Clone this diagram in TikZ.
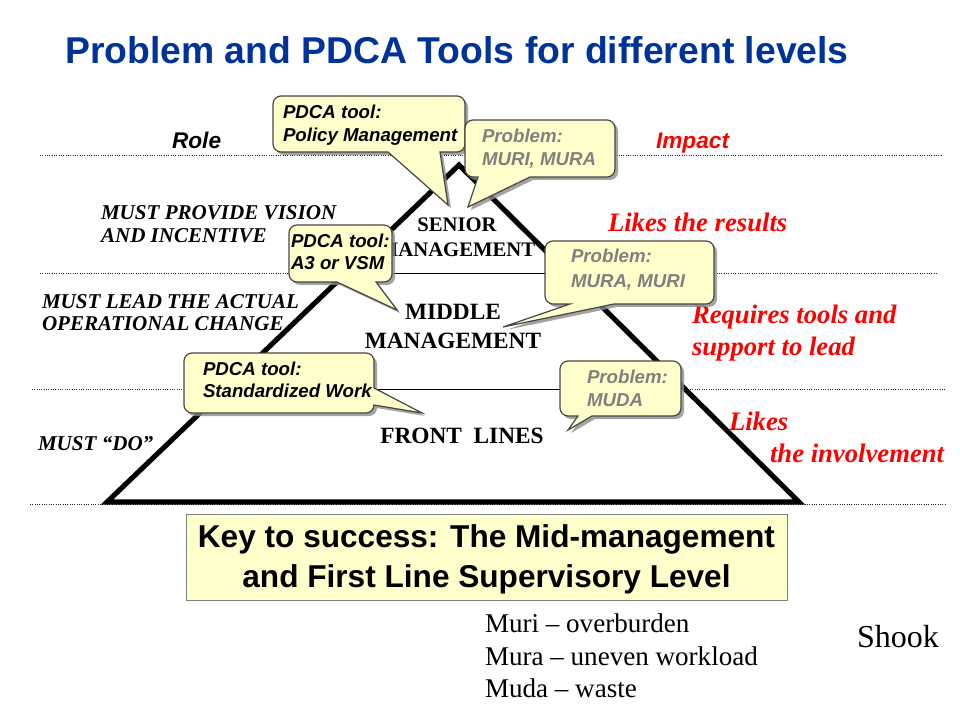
\documentclass[tikz,border=0pt]{standalone}
\usepackage{fontspec}
\setmainfont{Liberation Serif}
\setsansfont{Liberation Sans}
\definecolor{titleblue}{RGB}{0,51,153}
\definecolor{callfill}{RGB}{255,255,204}
\definecolor{callborder}{RGB}{70,70,70}
\definecolor{probgray}{RGB}{128,128,128}
\definecolor{keyborder}{RGB}{128,128,128}
\definecolor{impred}{RGB}{255,0,0}
\newcommand{\fsz}[1]{\fontsize{#1}{#1}\selectfont}
% rounded box with pointer inserts: L T R B r rightinsert bottominsert
\newcommand{\callshape}[7]{(#1+#5,#2) -- (#3-#5,#2) arc[start angle=-90,end angle=0,radius=#5] #6 -- (#3,#4-#5) arc[start angle=0,end angle=90,radius=#5] #7 -- (#1+#5,#4) arc[start angle=90,end angle=180,radius=#5] -- (#1,#2+#5) arc[start angle=180,end angle=270,radius=#5] -- cycle}
\begin{document}
\begin{tikzpicture}[x=0.75pt,y=-0.75pt,
  lbl/.style={inner sep=0pt,outer sep=0pt,anchor=base west},
  clbl/.style={inner sep=0pt,outer sep=0pt,anchor=base},
  roletxt/.style={lbl,font=\sffamily\bfseries\itshape\fsz{17}},
  lefttxt/.style={lbl,font=\rmfamily\bfseries\itshape\fsz{15.8}},
  leveltxt/.style={clbl,font=\rmfamily\bfseries\fsz{17.5}},
  seniortxt/.style={clbl,font=\rmfamily\bfseries\fsz{15.5}},
  redtxt/.style={lbl,font=\rmfamily\bfseries\itshape\fsz{20},text=impred},
  pdcatxt/.style={lbl,font=\sffamily\bfseries\itshape\fsz{14}},
  probtxt/.style={pdcatxt,text=probgray},
  dotline/.style={line width=0.75pt,dash pattern=on 0.75pt off 1pt,black!85},
  thinline/.style={line width=0.75pt,black},
  tri/.style={line width=3.8pt,black,line join=miter},
  callbody/.style={fill=callfill,draw=callborder,line width=0.9pt},
  callshadow/.style={fill=black!45,opacity=0.8},
  keybox/.style={fill=callfill,draw=keyborder,line width=0.75pt},
  keytxt/.style={clbl,font=\sffamily\bfseries\fsz{23.7}},
  notetxt/.style={lbl,font=\rmfamily\fsz{20.3}}
]
\useasboundingbox (0,0) rectangle (960,720);

% title
\node[clbl,font=\sffamily\bfseries\fsz{28},text=titleblue] (title) at (457,64) {Problem and PDCA Tools for different levels};

% dotted level lines
\coordinate (d1l) at (40,156);  \coordinate (d1r) at (942,156);
\coordinate (d2l) at (40,274);  \coordinate (d2r) at (938,274);
\coordinate (d3l) at (32,389);  \coordinate (d3r) at (946,389);
\coordinate (d4l) at (30,504);  \coordinate (d4r) at (946,504);
\draw[dotline] (d1l) -- (d1r);
\draw[dotline] (d2l) -- (d2r);
\draw[dotline] (d3l) -- (d3r);
\draw[dotline] (d4l) -- (d4r);

% triangle
\coordinate (apex) at (459,165);
\coordinate (bl) at (107,502);
\coordinate (br) at (799,502);
\coordinate (i1l) at (345,274); \coordinate (i1r) at (569,274);
\coordinate (i2l) at (225,389); \coordinate (i2r) at (685,389);
\draw[thinline] (i1l) -- (i1r);
\draw[thinline] (i2l) -- (i2r);
\draw[tri] (apex) -- (br) -- (bl) -- cycle;

% role / impact
\node[roletxt] (role) at (172,149) {Role};
\node[roletxt,text=impred] (impact) at (656,149) {Impact};

% left texts
\node[lefttxt] (v1) at (101,220) {MUST PROVIDE VISION};
\node[lefttxt] (v2) at (101,243) {AND INCENTIVE};
\node[lefttxt] (l1) at (42,308) {MUST LEAD THE ACTUAL};
\node[lefttxt] (l2) at (42,330) {OPERATIONAL CHANGE};
\node[lefttxt] (d1) at (38,450) {MUST “DO”};

% level texts
\node[seniortxt] (sen1) at (457,232) {SENIOR};
\node[seniortxt] (sen2) at (457,257) {MANAGEMENT};
\node[leveltxt] (mid1) at (453,320) {MIDDLE};
\node[leveltxt] (mid2) at (453,349) {MANAGEMENT};
\node[leveltxt] (front) at (462,443) {FRONT~ LINES};

% red texts
\node[redtxt] (r1) at (608,232) {Likes the results};
\node[redtxt] (r2) at (692,324) {Requires tools and};
\node[redtxt] (r3) at (692,355) {support to lead};
\node[redtxt] (r4) at (729,430) {Likes};
\node[redtxt] (r5) at (770,462) {the involvement};

% callouts: shadows
\fill[callshadow,shift={(3,3)}] \callshape{273}{96}{465}{152}{8}{}{-- (440,152) -- (448,205) -- (388,152)};
\fill[callshadow,shift={(3,3)}] \callshape{465}{120}{615}{177}{8}{}{-- (530,177) -- (468,207) -- (478,177)};
\fill[callshadow,shift={(3,3)}] \callshape{289}{225}{392}{282}{8}{}{-- (376,282) -- (397,310) -- (337,282)};
\fill[callshadow,shift={(3,3)}] \callshape{545}{241}{714}{304}{8}{}{-- (614,304) -- (503,327) -- (570,304)};
\fill[callshadow,shift={(3,3)}] \callshape{184}{353}{374}{413}{8}{-- (374,388) -- (422,413)}{};
\fill[callshadow,shift={(3,3)}] \callshape{560}{361}{681}{416}{8}{}{-- (592,416) -- (568,430) -- (578,416)};

% callouts: bodies
\path[callbody] \callshape{273}{96}{465}{152}{8}{}{-- (440,152) -- (448,205) -- (388,152)};
\node[pdcatxt] (c1a) at (283,119) {PDCA tool:};
\node[pdcatxt] (c1b) at (283,142) {Policy Management};

\path[callbody] \callshape{465}{120}{615}{177}{8}{}{-- (530,177) -- (468,207) -- (478,177)};
\node[probtxt] (c2a) at (482,143) {Problem:};
\node[probtxt] (c2b) at (482,166) {MURI, MURA};

\path[callbody] \callshape{289}{225}{392}{282}{8}{}{-- (376,282) -- (397,310) -- (337,282)};
\node[pdcatxt] (c3a) at (291,248) {PDCA tool:};
\node[pdcatxt] (c3b) at (291,270) {A3 or VSM};

\path[callbody] \callshape{545}{241}{714}{304}{8}{}{-- (614,304) -- (503,327) -- (570,304)};
\node[probtxt] (c4a) at (571,263) {Problem:};
\node[probtxt] (c4b) at (571,287) {MURA, MURI};

\path[callbody] \callshape{184}{353}{374}{413}{8}{-- (374,388) -- (422,413)}{};
\node[pdcatxt] (c5a) at (203,375) {PDCA tool:};
\node[pdcatxt] (c5b) at (203,397) {Standardized Work};

\path[callbody] \callshape{560}{361}{681}{416}{8}{}{-- (592,416) -- (568,430) -- (578,416)};
\node[probtxt] (c6a) at (587,383) {Problem:};
\node[probtxt] (c6b) at (587,406) {MUDA};

% key box
\path[keybox] (186,514) rectangle (787,600);
\node[keytxt] (k1) at (486.5,547) {Key to success: The Mid-management};
\node[keytxt] (k2) at (486.5,587) {and First Line Supervisory Level};

% notes
\node[notetxt] (n1) at (485,632) {Muri – overburden};
\node[notetxt] (n2) at (485,665) {Mura – uneven workload};
\node[notetxt] (n3) at (485,697) {Muda – waste};
\node[lbl,font=\rmfamily\fsz{24}] (shook) at (857,647) {Shook};
\end{tikzpicture}
\end{document}
